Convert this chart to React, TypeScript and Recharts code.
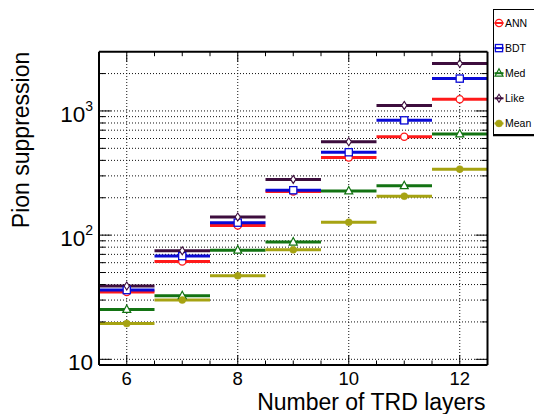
import React from 'react';
import { ScatterChart, Scatter, ErrorBar, XAxis, YAxis, ReferenceLine, Legend } from 'recharts';

// ---- data ----
const layers = [6, 7, 8, 9, 10, 11, 12];
const annValues = [34.8, 61.4, 119.6, 225, 421, 620, 1242];
const bdtValues = [36.1, 67.8, 126, 230, 465, 840, 1822];
const medValues = [25.2, 32.5, 75.7, 87.9, 227, 250, 653];
const likeValues = [38.9, 74.8, 140, 281, 565, 1108, 2410];
const meanValues = [19.4, 30.0, 47.1, 76.2, 127, 206, 340];
const binHalfWidths = [0.5, 0.5, 0.5, 0.5, 0.5, 0.5, 0.5];

const xTicks = [6, 6.5, 7, 7.5, 8, 8.5, 9, 9.5, 10, 10.5, 11, 11.5, 12];
const xLabelTicks = [6, 8, 10, 12];
const yTicks = [10, 20, 30, 40, 50, 60, 70, 80, 90, 100, 200, 300, 400, 500, 600, 700, 800, 900, 1000, 2000];
const yLabelTicks = [10, 100, 1000];
const yLabelText: Record<number, [string, string]> = { 10: ['10', ''], 100: ['10', '2'], 1000: ['10', '3'] };
const legendOrder = ['ANN', 'BDT', 'Med', 'Like', 'Mean'];

const FONT = '"Liberation Sans", Arial, Helvetica, sans-serif';

const mk = (vals: number[]) => layers.map((x, i) => ({ x, y: vals[i], ex: binHalfWidths[i] }));

// ---- marker shapes ----
const shapeCircleOpen = (c: string) => (p: any) => (
  <circle cx={p.cx} cy={p.cy} r={3.6} fill="#fff" stroke={c} strokeWidth={1.3} />
);
const shapeSquareOpen = (c: string) => (p: any) => (
  <rect x={p.cx - 3.6} y={p.cy - 3.6} width={7.2} height={7.2} fill="#fff" stroke={c} strokeWidth={1.3} />
);
const shapeTriangleOpen = (c: string) => (p: any) => (
  <polygon points={`${p.cx},${p.cy - 4.5} ${p.cx + 4},${p.cy + 3} ${p.cx - 4},${p.cy + 3}`} fill="#fff" stroke={c} strokeWidth={1.2} />
);
const shapeDiamondOpen = (c: string) => (p: any) => (
  <polygon points={`${p.cx},${p.cy - 4} ${p.cx + 2.6},${p.cy} ${p.cx},${p.cy + 4} ${p.cx - 2.6},${p.cy}`} fill="#fff" stroke={c} strokeWidth={1.1} />
);
const shapeCircleFilled = (c: string) => (p: any) => (
  <circle cx={p.cx} cy={p.cy} r={3.5} fill={c} stroke={c} strokeWidth={0.5} />
);

const series = [
  { name: 'ANN', color: '#ff1a1a', values: annValues, shape: shapeCircleOpen },
  { name: 'BDT', color: '#0a0ad6', values: bdtValues, shape: shapeSquareOpen },
  { name: 'Med', color: '#137313', values: medValues, shape: shapeTriangleOpen },
  { name: 'Like', color: '#3d0d3d', values: likeValues, shape: shapeDiamondOpen },
  { name: 'Mean', color: '#a6a312', values: meanValues, shape: shapeCircleFilled },
];

// ---- ticks ----
const BottomTick = (props: any) => {
  const { x, y, payload } = props;
  const v = payload.value;
  const major = xLabelTicks.includes(v);
  const len = major ? 10 : 4.5;
  return (
    <g>
      <line x1={x} x2={x} y1={y} y2={y - len} stroke="#000" strokeWidth={1} />
      {major && (
        <text x={x} y={y + 19.5} textAnchor="middle" fontSize={18.5} fontFamily={FONT} fill="#000">
          {v}
        </text>
      )}
    </g>
  );
};

const TopTick = (props: any) => {
  const { x, y, payload } = props;
  const major = xLabelTicks.includes(payload.value);
  const len = major ? 10 : 4.5;
  return <line x1={x} x2={x} y1={y} y2={y + len} stroke="#000" strokeWidth={1} />;
};

const LeftTick = (props: any) => {
  const { x, y, payload } = props;
  const v = payload.value;
  const axisX = x + 6;
  const major = yLabelTicks.includes(v);
  const len = major ? 12 : 6;
  const lbl = yLabelText[v];
  return (
    <g>
      <line x1={axisX} x2={axisX + len} y1={y} y2={y} stroke="#000" strokeWidth={1} />
      {lbl && (
        <text x={x} y={y + 10.8} textAnchor="end" fontSize={22.5} fontFamily={FONT} fill="#000">
          {lbl[0]}
          {lbl[1] && (
            <tspan fontSize={14} dy={-10.5}>
              {lbl[1]}
            </tspan>
          )}
        </text>
      )}
    </g>
  );
};

const RightTick = (props: any) => {
  const { x, y, payload } = props;
  const major = yLabelTicks.includes(payload.value);
  const len = major ? 12 : 6;
  return <line x1={x} x2={x - len} y1={y} y2={y} stroke="#000" strokeWidth={1} />;
};

// ---- legend ----
const legendMarkers: Record<string, (c: string) => (p: any) => React.ReactElement> = {
  ANN: shapeCircleOpen,
  BDT: shapeSquareOpen,
  Med: shapeTriangleOpen,
  Like: shapeDiamondOpen,
  Mean: shapeCircleFilled,
};

const renderLegend = (props: any) => {
  const payload = [...(props.payload || [])].sort(
    (a: any, b: any) => legendOrder.indexOf(a.value) - legendOrder.indexOf(b.value)
  );
  return (
    <svg width={50} height={128} style={{ display: 'block' }}>
      <rect x={0.5} y={0.5} width={60} height={125} fill="#fff" stroke="#000" strokeWidth={1} />
      <line x1={0} x2={60} y1={126.5} y2={126.5} stroke="#000" strokeWidth={1.5} />
      {payload.map((e: any, i: number) => {
        const cy = 14 + i * 25.1;
        const c = e.color;
        const Shape = legendMarkers[e.value](c);
        return (
          <g key={e.value}>
            {Shape({ cx: 6, cy })}
            <line x1={1.5} x2={10.5} y1={cy} y2={cy} stroke={c} strokeWidth={2} />
            <text x={12} y={cy + 3.8} fontSize={10.5} fontFamily={FONT} fill="#000">
              {e.value}
            </text>
          </g>
        );
      })}
    </svg>
  );
};

export default function App() {
  return (
    <div style={{ position: 'absolute', left: 0, top: 0, width: 534, height: 414, overflow: 'hidden', background: '#fff', fontFamily: FONT }}>
      <ScatterChart width={534} height={414} margin={{ top: 50.7, right: 45.5, bottom: 0, left: 0 }}>
        <XAxis
          xAxisId="b"
          orientation="bottom"
          type="number"
          dataKey="x"
          domain={[5.5, 12.5]}
          allowDataOverflow
          ticks={xTicks}
          interval={0}
          height={49}
          tickSize={0}
          tickMargin={0}
          tick={BottomTick}
          axisLine={{ stroke: '#000', strokeWidth: 2 }}
          label={(p: any) => (
            <text x={p.viewBox.x + p.viewBox.width - 2} y={p.viewBox.y + 44.5} textAnchor="end" fontSize={23} fontFamily={FONT} fill="#000">
              Number of TRD layers
            </text>
          )}
        />
        <XAxis
          xAxisId="t"
          orientation="top"
          type="number"
          dataKey="x"
          domain={[5.5, 12.5]}
          allowDataOverflow
          ticks={xTicks}
          interval={0}
          height={1}
          tickSize={0}
          tickMargin={0}
          tick={TopTick}
          axisLine={{ stroke: '#000', strokeWidth: 2 }}
        />
        <YAxis
          yAxisId="l"
          orientation="left"
          type="number"
          dataKey="y"
          scale="log"
          domain={[9, 3000]}
          allowDataOverflow
          ticks={yTicks}
          interval={0}
          width={99}
          tickSize={0}
          tickMargin={6}
          tick={LeftTick}
          axisLine={{ stroke: '#000', strokeWidth: 2 }}
          label={(p: any) => {
            const x = 29.5;
            const y = p.viewBox.y;
            return (
              <text x={x} y={y} transform={`rotate(-90 ${x} ${y})`} textAnchor="end" fontSize={23} fontFamily={FONT} fill="#000">
                Pion suppression
              </text>
            );
          }}
        />
        <YAxis
          yAxisId="r"
          orientation="right"
          type="number"
          dataKey="y"
          scale="log"
          domain={[9, 3000]}
          allowDataOverflow
          ticks={yTicks}
          interval={0}
          width={1}
          tickSize={0}
          tickMargin={0}
          tick={RightTick}
          axisLine={{ stroke: '#000', strokeWidth: 2 }}
        />
        {xLabelTicks.map((v) => (
          <ReferenceLine key={`gx${v}`} xAxisId="b" yAxisId="l" x={v} stroke="#111" strokeWidth={1} strokeDasharray="1 2" />
        ))}
        {yTicks.map((v) => (
          <ReferenceLine key={`gy${v}`} xAxisId="b" yAxisId="l" y={v} stroke="#111" strokeWidth={1} strokeDasharray="1 2" />
        ))}
        {series.map((s) => (
          <Scatter
            key={s.name}
            name={s.name}
            xAxisId="b"
            yAxisId="l"
            data={mk(s.values)}
            dataKey="y"
            fill={s.color}
            stroke={s.color}
            shape={s.shape(s.color)}
            isAnimationActive={false}
          >
            <ErrorBar dataKey="ex" direction="x" width={0} stroke={s.color} strokeWidth={3} isAnimationActive={false} />
          </Scatter>
        ))}
        <Legend
          layout="vertical"
          align="center"
          verticalAlign="middle"
          content={renderLegend}
          wrapperStyle={{ position: 'absolute', left: 493, top: 9, width: 50, height: 128 }}
        />
      </ScatterChart>
    </div>
  );
}
